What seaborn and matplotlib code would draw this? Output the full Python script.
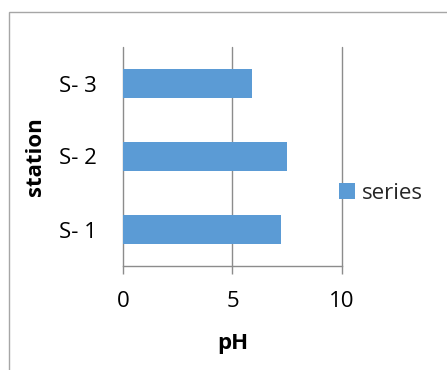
import matplotlib
matplotlib.use("Agg")
import matplotlib.pyplot as plt
from matplotlib.patches import Rectangle
import seaborn as sns
import pandas as pd

stations = ["S- 3", "S- 2", "S- 1"]
ph_values = [5.9, 7.5, 7.2]
series_name = "series"
x_ticks = [0, 5, 10]

sns.set_theme(style="white")
plt.rcParams["font.family"] = ["Open Sans", "DejaVu Sans"]

df = pd.DataFrame({"station": stations, "pH": ph_values, "legend": [series_name] * len(stations)})

W, H = 447, 370
fig = plt.figure(figsize=(W / 100, H / 100), dpi=100)
left_px, right_px, top_px, bottom_px = 123.3, 341.7, 47, 266
ax = fig.add_axes([left_px / W, 1 - bottom_px / H, (right_px - left_px) / W, (bottom_px - top_px) / H])

sns.barplot(data=df, x="pH", y="station", hue="legend", palette=["#5B9BD5"],
            width=0.4, order=stations, orient="h", ax=ax, legend=True,
            saturation=1, edgecolor="none")

ax.set_xlim(0, 10)
ax.set_ylim(2.5, -0.5)
ax.set_xticks(x_ticks)
ax.set_xticklabels([str(t) for t in x_ticks])
for t in x_ticks:
    ax.axvline(t, color="#8c8c8c", lw=1.0, zorder=0, clip_on=False)

for s in ["top", "right", "left"]:
    ax.spines[s].set_visible(False)
ax.spines["bottom"].set_color("#8c8c8c")
ax.spines["bottom"].set_linewidth(1.0)

fs = 16
ax.tick_params(axis="x", length=6, width=1.0, color="#8c8c8c", direction="out",
               labelsize=fs, labelcolor="black", pad=12, bottom=True)
ax.tick_params(axis="y", length=0, labelsize=fs, labelcolor="black", pad=19)

ax.set_xlabel("pH", fontsize=fs, fontweight="bold", color="black")
ax.set_ylabel("station", fontsize=fs, fontweight="bold", color="black")
ax.xaxis.label.set_va("center")
ax.yaxis.label.set_va("center")
ax.xaxis.set_label_coords(0.5, (bottom_px - 343) / (bottom_px - top_px))
ax.yaxis.set_label_coords((35 - left_px) / (right_px - left_px), 0.5)

ax.legend(loc="center left", bbox_to_anchor=(339 / W, 1 - 193.5 / H),
          bbox_transform=fig.transFigure, frameon=False, fontsize=fs,
          handlelength=0.7, handleheight=0.7, handletextpad=0.35,
          borderpad=0, borderaxespad=0)

fig.add_artist(Rectangle((8.5 / W, -0.1), 1.5, (1 - 11.5 / H) + 0.1,
                         transform=fig.transFigure, fill=False,
                         edgecolor="#a6a6a6", lw=1.0))

fig.savefig("out.png", dpi=100)
